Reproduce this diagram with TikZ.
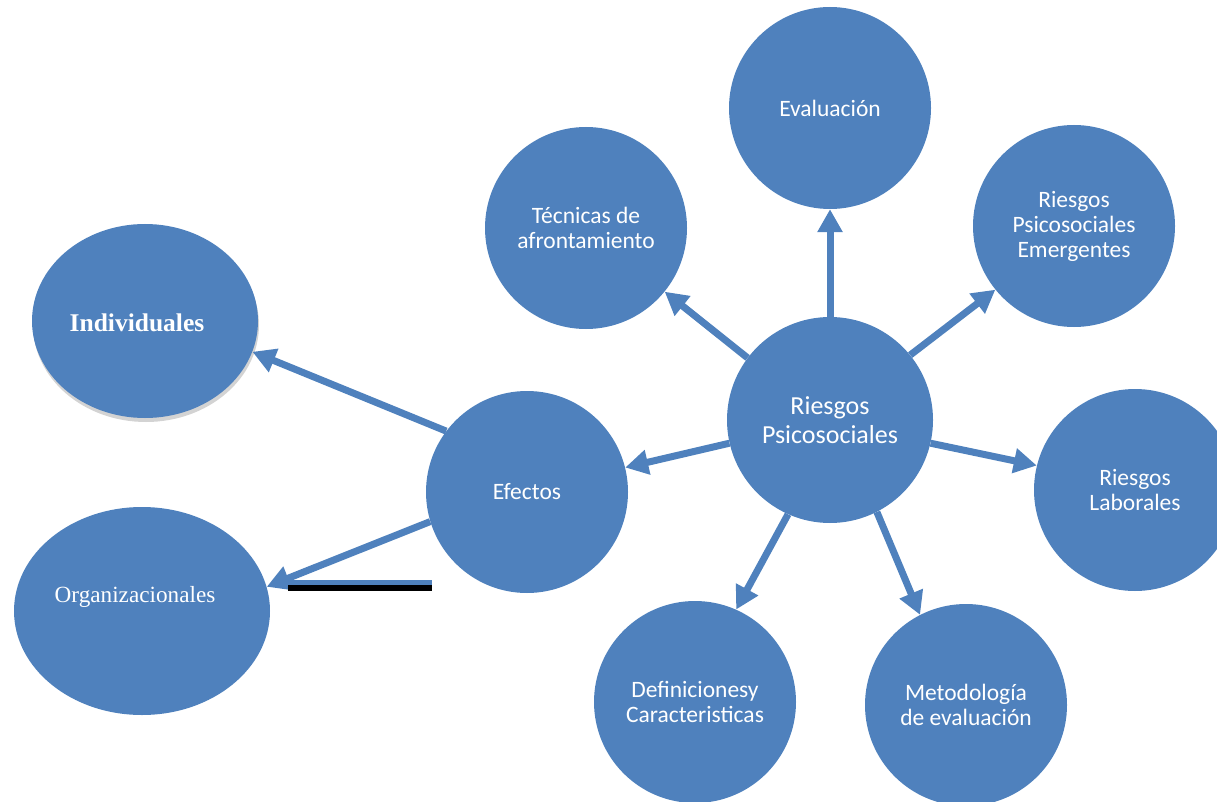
\documentclass[tikz,border=0pt]{standalone}
\usepackage{fontspec}
\setmainfont{Carlito}
\newfontfamily\serifface{Liberation Serif}
\usetikzlibrary{arrows.meta,shapes.geometric,shadows}
\definecolor{boxblue}{HTML}{4F81BD}
\tikzset{
  bubble/.style={circle, fill=boxblue, text=white, align=center, inner sep=0pt,
    minimum size=202pt, font=\fontsize{23.5}{25}\selectfont},
  oval/.style={ellipse, fill=boxblue, inner sep=0pt},
  link/.style={draw=boxblue, line width=7pt, -{Triangle[length=23pt,width=24pt]}},
}

\begin{document}
\begin{tikzpicture}[x=1pt, y=-1pt]
    \useasboundingbox (0,0) rectangle (1217,802);

    % nodes of the map
    \node [bubble, minimum size=206pt, font=\fontsize{26}{29}\selectfont] (riesgos) at (830,420) {Riesgos\\Psicosociales};
    \node [bubble] (eval) at (830,108) {Evaluación};
    \node [bubble] (tecnicas) at (586,228) {Técnicas de\\afrontamiento};
    \node [bubble] (emerg) at (1074,226) {Riesgos\\Psicosociales\\Emergentes};
    \node [bubble] (laborales) at (1135,490) {Riesgos\\Laborales};
    \node [bubble] (metodo) at (966,705) {Metodología\\de evaluación};
    \node [bubble] (defin) at (695,702) {Definicionesy\\Caracteristicas};
    \node [bubble] (efectos) at (527,492) {Efectos};

    % the two ovals, text set apart
    \node [oval, minimum width=226pt, minimum height=194pt,
      drop shadow={opacity=0.35, shadow xshift=1pt, shadow yshift=-4pt}] (indiv) at (145,321) {};
    \node [oval, minimum width=256pt, minimum height=208pt] (org) at (142,611) {};
    \node [text=white, font=\serifface\bfseries\fontsize{25.5}{28}\selectfont] (indivtext) at (137,323) {Individuales};
    \node [text=white, font=\serifface\fontsize{23.2}{26}\selectfont] (orgtext) at (135,597) {Organizacionales};

    % arrows
    \draw [link] (riesgos.90) -- (eval.-90);
    \draw [link] (riesgos.143) -- (tecnicas.-39);
    \draw [link] (riesgos.39) -- (emerg.219);
    \draw [link] (riesgos.-13) -- (laborales.166);
    \draw [link] (riesgos.-63) -- (metodo.117);
    \draw [link] (riesgos.-114) -- (defin.66);
    \draw [link] (riesgos.193) -- (efectos.14);
    \draw [link] (efectos.143) -- (indiv.-16);
    \draw [link] (efectos.197) -- (org.11);

    % stray rule under the lower arrow
    \fill [black] (288,585) rectangle (432,591);
    \fill [boxblue] (288,580) rectangle (432,585);
\end{tikzpicture}
\end{document}
